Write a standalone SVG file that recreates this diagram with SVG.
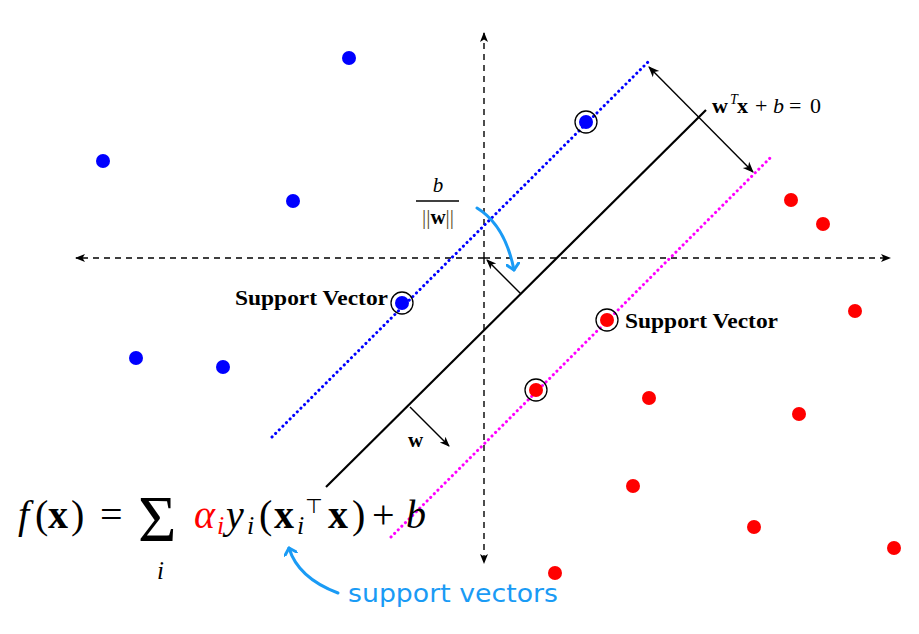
<svg xmlns="http://www.w3.org/2000/svg" width="919" height="634" viewBox="0 0 919 634">
<style>
.axis{stroke:#000;stroke-width:1.4;stroke-dasharray:6 5;fill:none}
.solid{stroke:#000;stroke-width:2.2;fill:none}
.thin{stroke:#000;stroke-width:1.4;fill:none}
.dotb{stroke:#0000ff;stroke-width:3;stroke-dasharray:0.1 5;stroke-linecap:round;fill:none}
.dotm{stroke:#ff00ff;stroke-width:3;stroke-dasharray:0.1 5;stroke-linecap:round;fill:none}
.curve{stroke:#1a9bf5;stroke-width:3;fill:none;stroke-linecap:round}
.blue{fill:#0000ff}
.red{fill:#ff0000}
.ring{fill:none;stroke:#000;stroke-width:1.3}
.serif{font-family:"Liberation Serif","Times New Roman",serif}
.lbl{font-family:"Liberation Serif","Times New Roman",serif;font-weight:bold;font-size:22px;fill:#000}
.hand{font-family:"DejaVu Sans","Noto Sans",sans-serif;font-size:24px;fill:#1a9bf5}
</style>
<defs>
<marker id="ah" markerWidth="10" markerHeight="10" refX="9" refY="5" orient="auto" markerUnits="userSpaceOnUse">
<path d="M0,1 L10,5 L0,9 L2.5,5 Z" fill="#000"/>
</marker>
<marker id="ahs" markerWidth="12" markerHeight="12" refX="10" refY="6" orient="auto-start-reverse" markerUnits="userSpaceOnUse">
<path d="M0,1.5 L11,6 L0,10.5 L3,6 Z" fill="#000"/>
</marker>
<marker id="bh" markerWidth="14" markerHeight="14" refX="7" refY="7" orient="auto" markerUnits="userSpaceOnUse">
<path d="M1,1 L7,7 L1,13" fill="none" stroke="#1a9bf5" stroke-width="3" stroke-linecap="round" stroke-linejoin="round"/>
</marker>
</defs>

<g id="connectors">
<line class="axis" x1="484" y1="258" x2="890" y2="258" marker-end="url(#ah)"/>
<line class="axis" x1="484" y1="258" x2="76" y2="258" marker-end="url(#ah)"/>
<line class="axis" x1="484" y1="258" x2="484" y2="33" marker-end="url(#ah)"/>
<line class="axis" x1="484" y1="258" x2="484" y2="563" marker-end="url(#ah)"/>
<line class="solid" x1="326" y1="487" x2="706" y2="110"/>
<line class="dotb" x1="272" y1="437" x2="651" y2="59"/>
<line class="dotm" x1="391" y1="537" x2="770" y2="158"/>
<line class="thin" x1="649" y1="67" x2="753" y2="172" marker-start="url(#ahs)" marker-end="url(#ahs)"/>
<line class="thin" x1="521" y1="294" x2="487" y2="260" marker-end="url(#ah)"/>
<line class="thin" x1="410" y1="407" x2="449" y2="446" marker-end="url(#ah)"/>
<path class="curve" d="M477,208 Q505,225 514,270" marker-end="url(#bh)"/>
<path class="curve" d="M338,593 Q298,578 289,548" marker-end="url(#bh)"/>
</g>

<g id="blue-points">
<circle class="blue" cx="349" cy="58" r="7"/>
<circle class="blue" cx="103" cy="161" r="7"/>
<circle class="blue" cx="293" cy="201" r="7"/>
<circle class="blue" cx="136" cy="358" r="7"/>
<circle class="blue" cx="223" cy="367" r="7"/>
</g>
<g id="blue-support-vectors">
<circle class="blue" cx="586" cy="122" r="7"/>
<circle class="ring" cx="586" cy="122" r="11"/>
<circle class="blue" cx="402" cy="303" r="7"/>
<circle class="ring" cx="402" cy="303" r="11"/>
</g>
<g id="red-points">
<circle class="red" cx="791" cy="200" r="7"/>
<circle class="red" cx="823" cy="224" r="7"/>
<circle class="red" cx="855" cy="311" r="7"/>
<circle class="red" cx="649" cy="398" r="7"/>
<circle class="red" cx="799" cy="414" r="7"/>
<circle class="red" cx="633" cy="486" r="7"/>
<circle class="red" cx="754" cy="527" r="7"/>
<circle class="red" cx="894" cy="548" r="7"/>
<circle class="red" cx="555" cy="573" r="7"/>
</g>
<g id="red-support-vectors">
<circle class="red" cx="607" cy="320" r="7"/>
<circle class="ring" cx="607" cy="320" r="11"/>
<circle class="red" cx="536" cy="390" r="7"/>
<circle class="ring" cx="536" cy="390" r="11"/>
</g>

<g id="label-hyperplane" class="serif" font-size="22" fill="#000">
<text x="712" y="113"><tspan font-weight="bold">w</tspan><tspan x="730" y="104" font-style="italic" font-size="14">T</tspan><tspan x="737" y="113" font-weight="bold">x</tspan><tspan x="755">+</tspan><tspan x="773" font-style="italic">b</tspan><tspan x="789">=</tspan><tspan x="810">0</tspan></text>
</g>

<g id="label-offset" class="serif" fill="#000">
<text x="438" y="192" font-size="21" font-style="italic" text-anchor="middle">b</text>
<line x1="416" y1="201" x2="459" y2="201" stroke="#000" stroke-width="1.3"/>
<text x="438" y="224" font-size="21" text-anchor="middle" fill="#5a4a2a">||<tspan font-weight="bold" fill="#000">w</tspan>||</text>
</g>

<g id="label-sv-left"><text class="lbl" x="235" y="305" textLength="153" lengthAdjust="spacingAndGlyphs">Support Vector</text></g>
<g id="label-sv-right"><text class="lbl" x="625" y="328" textLength="153" lengthAdjust="spacingAndGlyphs">Support Vector</text></g>
<g id="label-w"><text class="serif" x="408" y="447" font-size="21" font-weight="bold">w</text></g>

<g id="formula" class="serif" font-size="40" fill="#000">
<text y="528"><tspan x="18" font-style="italic">f</tspan><tspan x="35">(</tspan><tspan x="48" font-weight="bold">x</tspan><tspan x="71">)</tspan><tspan x="100">=</tspan></text>
<text x="138" y="541" font-size="66">Σ</text>
<text x="157" y="579" font-size="25" font-style="italic">i</text>
<text y="528"><tspan x="194" font-style="italic" fill="#ff0000">α</tspan><tspan x="217" y="534" font-size="26" font-style="italic" fill="#ff0000">i</tspan><tspan x="226" y="528" font-style="italic">y</tspan><tspan x="247" y="534" font-size="26" font-style="italic">i</tspan><tspan x="259" y="528">(</tspan><tspan x="274" font-weight="bold">x</tspan><tspan x="297" y="534" font-size="26" font-style="italic">i</tspan><tspan x="328" y="528" font-weight="bold">x</tspan><tspan x="352">)</tspan><tspan x="372">+</tspan><tspan x="406" font-style="italic">b</tspan></text>
<text x="305" y="513" font-size="20" font-family="DejaVu Sans, sans-serif">⊤</text>
</g>

<g id="label-support-vectors"><text class="hand" x="348" y="602" textLength="210" lengthAdjust="spacingAndGlyphs">support vectors</text></g>
</svg>
